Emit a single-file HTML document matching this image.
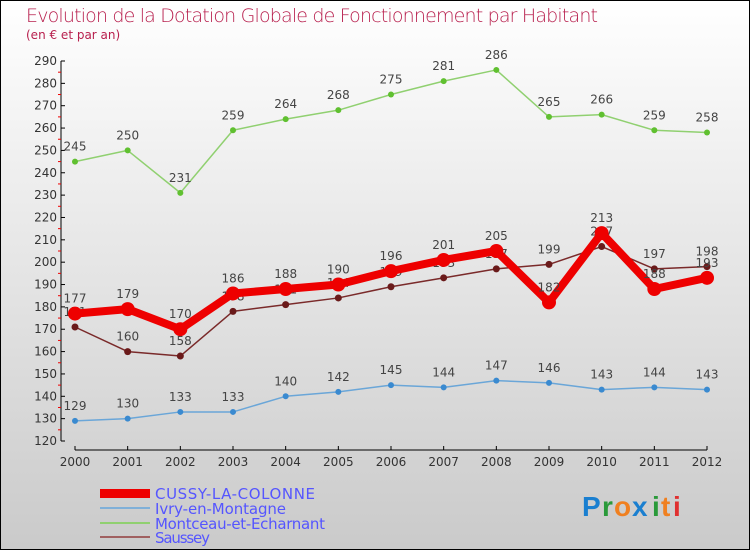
<!DOCTYPE html>
<html><head><meta charset="utf-8"><style>
html,body{margin:0;padding:0}
body{width:750px;height:550px;overflow:hidden;font-family:"DejaVu Sans","Liberation Sans",sans-serif}
</style></head><body>
<svg width="750" height="550" xmlns="http://www.w3.org/2000/svg" id="svg">
<defs><linearGradient id="bg" x1="0" y1="0" x2="0" y2="1"><stop offset="0" stop-color="#ffffff"/><stop offset="1" stop-color="#cacaca"/></linearGradient></defs>
<rect x="0.5" y="0.5" width="749" height="549" fill="url(#bg)" stroke="#000"/>
<text x="26" y="22" font-size="19" fill="#b8204e" font-family="DejaVu Sans, sans-serif" font-weight="200" textLength="572">Evolution de la Dotation Globale de Fonctionnement par Habitant</text>
<text x="26" y="39" font-size="12" fill="#b8204e">(en € et par an)</text>
<g id="axes"></g><g id="series"></g>
<g font-size="15" fill="#5555ff">
<rect x="100" y="489" width="50" height="9" fill="#e00"/>
<text x="155" y="499" textLength="160">CUSSY-LA-COLONNE</text>
<line x1="100" y1="508" x2="150" y2="508" stroke="#80b0d8" stroke-width="2"/>
<text x="155" y="514" textLength="131">Ivry-en-Montagne</text>
<line x1="100" y1="523" x2="150" y2="523" stroke="#90d070" stroke-width="2"/>
<text x="155" y="529" textLength="170">Montceau-et-Echarnant</text>
<line x1="100" y1="537" x2="150" y2="537" stroke="#a06060" stroke-width="2"/>
<text x="155" y="543" textLength="55">Saussey</text>
</g>
<g font-size="28" font-family="Liberation Sans, sans-serif" font-weight="bold">
<text x="582" y="516" fill="#1a7fd0">P</text><text x="602" y="516" fill="#2a9a3a">r</text><text x="614" y="516" fill="#f08020">o</text><text x="632" y="516" fill="#1a7fd0">x</text><text x="652" y="516" fill="#2a9a3a">i</text><text x="661" y="516" fill="#f08020">t</text><text x="673" y="516" fill="#e03030">i</text>
</g>
</svg>
<script>
const years=[2000,2001,2002,2003,2004,2005,2006,2007,2008,2009,2010,2011,2012];
const cussy=[177,179,170,186,188,190,196,201,205,182,213,188,193];
const ivry=[129,130,133,133,140,142,145,144,147,146,143,144,143];
const montceau=[245,250,231,259,264,268,275,281,286,265,266,259,258];
const saussey=[171,160,158,178,181,184,189,193,197,199,207,197,198];
const yTicks=[120,130,140,150,160,170,180,190,200,210,220,230,240,250,260,270,280,290];
const NS="http://www.w3.org/2000/svg";
const X=i=>75+i*(707-75)/(years.length-1);
const Y=v=>441-(v-120)*(441-61)/170;
function mk(t,a,p){const e=document.createElementNS(NS,t);for(const k in a)e.setAttribute(k,a[k]);(p||document.getElementById('svg')).appendChild(e);return e;}
const ax=document.getElementById('axes');
mk('line',{x1:61,y1:61,x2:61,y2:441,stroke:'#000'},ax);
mk('line',{x1:75,y1:450,x2:707,y2:450,stroke:'#000'},ax);
yTicks.forEach(v=>{
 mk('line',{x1:61,y1:Y(v),x2:65,y2:Y(v),stroke:'#000'},ax);
 if(v<290) mk('line',{x1:58,y1:Y(v+5),x2:61,y2:Y(v+5),stroke:'#e00'},ax);
 const t=mk('text',{x:57,y:Y(v)+4,'text-anchor':'end','font-size':12,fill:'#333'},ax);
 
 
 t.textContent=v;
});
years.forEach((y,i)=>{
 mk('line',{x1:X(i),y1:446,x2:X(i),y2:450,stroke:'#000'},ax);
 const t=mk('text',{x:X(i),y:466,'text-anchor':'middle','font-size':12,fill:'#333'},ax);
 
 
 t.textContent=y;
});
const sg=document.getElementById('series');
function series(name,data,color,dot,w,r){
 const g=mk('g',{},sg);
 
 
 mk('polyline',{points:data.map((v,i)=>X(i)+','+Y(v)).join(' '),fill:'none',stroke:color,'stroke-width':w,'stroke-linejoin':'round'},g);
 data.forEach((v,i)=>{
  const c=mk('circle',{cx:X(i),cy:Y(v),r:r,fill:dot},g);
  
  
  const t=mk('text',{x:X(i),y:Y(v)-11,'text-anchor':'middle','font-size':12,fill:'#444'},g);
  
  
  t.textContent=v;
 });
}
series('ivry',ivry,'#6aa6d8','#3a8ad0',1.5,3);
series('montceau',montceau,'#90d070','#60c030',1.5,3);
series('saussey',saussey,'#7a2a2a','#6a1a1a',1.5,3.5);
series('cussy',cussy,'#ee0000','#ee0000',8,7);
</script>
</body></html>
